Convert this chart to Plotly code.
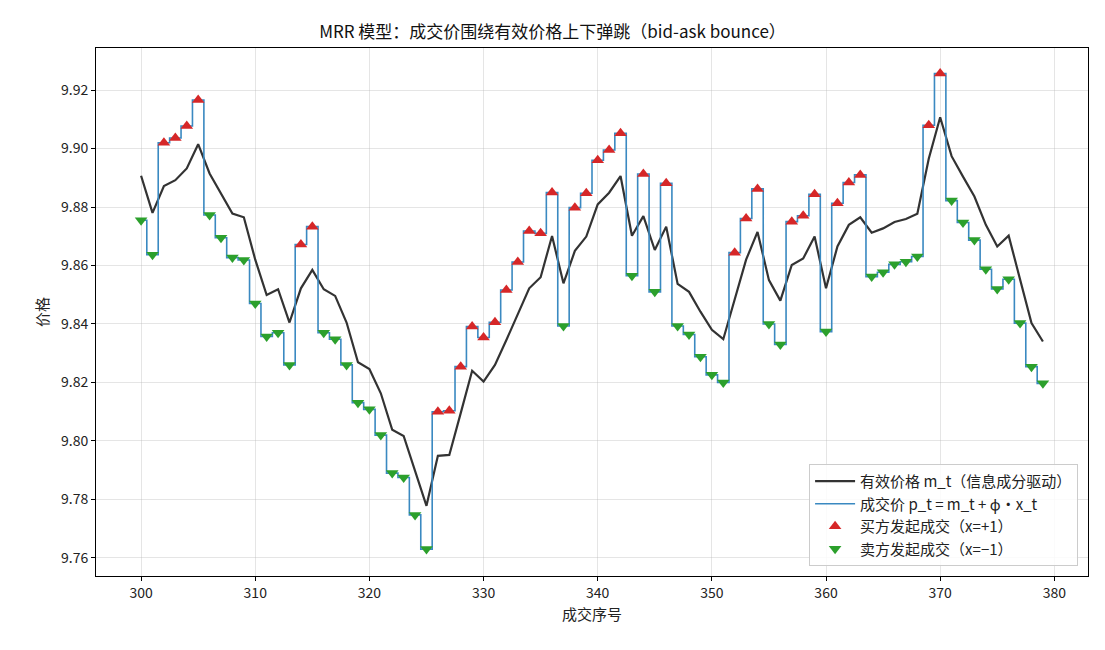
import plotly.graph_objects as go

trade_idx = list(range(300, 380))

m_t = [9.8907, 9.8780, 9.8872, 9.8892, 9.8932, 9.9015, 9.8915, 9.8847, 9.8778, 9.8765,
       9.8620, 9.8499, 9.8519, 9.8405, 9.8522, 9.8585, 9.8519, 9.8496, 9.8405, 9.8269,
       9.8246, 9.8163, 9.8038, 9.8017, 9.7901, 9.7778, 9.7949, 9.7952, 9.8095, 9.8240,
       9.8203, 9.8260, 9.8345, 9.8431, 9.8522, 9.8560, 9.8701, 9.8539, 9.8650, 9.8699,
       9.8809, 9.8849, 9.8906, 9.8702, 9.8769, 9.8653, 9.8733, 9.8537, 9.8510, 9.8442,
       9.8380, 9.8348, 9.8482, 9.8620, 9.8715, 9.8550, 9.8480, 9.8602, 9.8624, 9.8699,
       9.8522, 9.8665, 9.8739, 9.8765, 9.8712, 9.8727, 9.8749, 9.8759, 9.8777, 9.8965,
       9.9107, 9.8974, 9.8904, 9.8836, 9.8739, 9.8665, 9.8702, 9.8550, 9.8403, 9.8340]

p_t = [9.8755, 9.8637, 9.9020, 9.9036, 9.9077, 9.9166, 9.8773, 9.8695, 9.8627, 9.8619,
       9.8470, 9.8357, 9.8370, 9.8260, 9.8672, 9.8733, 9.8370, 9.8348, 9.8260, 9.8131,
       9.8108, 9.8020, 9.7890, 9.7875, 9.7747, 9.7630, 9.8100, 9.8103, 9.8254, 9.8391,
       9.8354, 9.8406, 9.8516, 9.8612, 9.8718, 9.8710, 9.8850, 9.8393, 9.8798, 9.8847,
       9.8960, 9.8995, 9.9052, 9.8565, 9.8913, 9.8510, 9.8881, 9.8393, 9.8364, 9.8288,
       9.8226, 9.8200, 9.8644, 9.8761, 9.8862, 9.8400, 9.8330, 9.8750, 9.8770, 9.8844,
       9.8374, 9.8813, 9.8884, 9.8910, 9.8562, 9.8577, 9.8604, 9.8613, 9.8631, 9.9080,
       9.9257, 9.8822, 9.8747, 9.8687, 9.8587, 9.8520, 9.8553, 9.8403, 9.8254, 9.8197]

x_t = [-1, -1, 1, 1, 1, 1, -1, -1, -1, -1,
       -1, -1, -1, -1, 1, 1, -1, -1, -1, -1,
       -1, -1, -1, -1, -1, -1, 1, 1, 1, 1,
       1, 1, 1, 1, 1, 1, 1, -1, 1, 1,
       1, 1, 1, -1, 1, -1, 1, -1, -1, -1,
       -1, -1, 1, 1, 1, -1, -1, 1, 1, 1,
       -1, 1, 1, 1, -1, -1, -1, -1, -1, 1,
       1, -1, -1, -1, -1, -1, -1, -1, -1, -1]

x_ticks = [300, 310, 320, 330, 340, 350, 360, 370, 380]
y_ticks = [9.76, 9.78, 9.80, 9.82, 9.84, 9.86, 9.88, 9.90, 9.92]

buy_x = [t for t, s in zip(trade_idx, x_t) if s > 0]
buy_y = [p for p, s in zip(p_t, x_t) if s > 0]
sell_x = [t for t, s in zip(trade_idx, x_t) if s < 0]
sell_y = [p for p, s in zip(p_t, x_t) if s < 0]

FONT = "Noto Sans CJK SC, Noto Sans, DejaVu Sans, sans-serif"

fig = go.Figure()
fig.add_trace(go.Scatter(x=trade_idx, y=m_t, mode="lines",
                         line=dict(color="#333333", width=2.2),
                         name="有效价格 m_t（信息成分驱动）"))
fig.add_trace(go.Scatter(x=trade_idx, y=p_t, mode="lines",
                         line=dict(color="#3a89c1", width=1.6, shape="hvh"),
                         name="成交价 p_t = m_t + ϕ·x_t"))
fig.add_trace(go.Scatter(x=buy_x, y=buy_y, mode="markers",
                         marker=dict(symbol="triangle-up", size=11, color="#d62728"),
                         name="买方发起成交（x=+1）"))
fig.add_trace(go.Scatter(x=sell_x, y=sell_y, mode="markers",
                         marker=dict(symbol="triangle-down", size=11, color="#2ca02c"),
                         name="卖方发起成交（x=−1）"))

axis_common = dict(showline=True, linecolor="black", linewidth=1, mirror=True,
                   ticks="outside", ticklen=4, tickcolor="black",
                   showgrid=True, gridcolor="rgba(180,180,180,0.35)", gridwidth=1,
                   zeroline=False, tickfont=dict(size=14, color="#222"))

fig.update_layout(
    width=1105, height=650,
    paper_bgcolor="white", plot_bgcolor="white",
    font=dict(family=FONT, size=14, color="#222"),
    margin=dict(l=96, r=17, t=48, b=74),
    title=dict(text="MRR 模型：成交价围绕有效价格上下弹跳（bid-ask bounce）",
               x=0.5, xanchor="center", y=1 - 32 / 650, yanchor="middle",
               font=dict(size=17, color="#111")),
    xaxis=dict(range=[296.05, 382.95], tickvals=x_ticks,
               title=dict(text="成交序号", font=dict(size=15), standoff=8),
               **axis_common),
    yaxis=dict(range=[9.7538, 9.9344], tickvals=y_ticks, tickformat=".2f",
               title=dict(text="价格", font=dict(size=15), standoff=8),
               **axis_common),
    legend=dict(x=0.99, y=0.019, xanchor="right", yanchor="bottom",
                bgcolor="rgba(255,255,255,0.85)", bordercolor="#cccccc", borderwidth=1,
                font=dict(size=15), tracegroupgap=0, itemwidth=40),
    showlegend=True,
)

fig.write_html("out.html")
